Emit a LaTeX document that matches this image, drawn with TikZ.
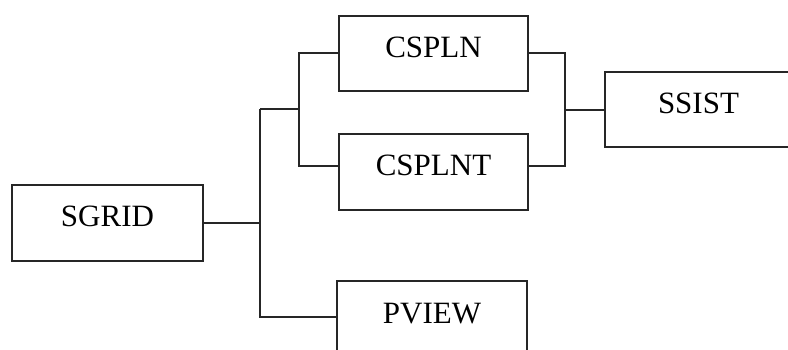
\documentclass[tikz,border=0pt]{standalone}
\usepackage{fontspec}
\setmainfont{Liberation Serif}
\begin{document}
\begin{tikzpicture}[x=1pt,y=-1pt,
  blk/.style={draw=black!85, line width=1.5pt, rectangle, inner sep=0pt,
    minimum height=76pt, text height=20.5pt, text depth=12.5pt,
    font=\fontsize{31}{33}\selectfont},
  wire/.style={draw=black!85, line width=1.5pt}]
\useasboundingbox (0,0) rectangle (788,350);
\clip (0,0) rectangle (788,350);
\node[blk, minimum width=191pt] (sg) at (107.5,223) {SGRID};
\node[blk, minimum width=189pt, minimum height=75pt] (cn) at (433.5,53.5) {CSPLN};
\node[blk, minimum width=189pt] (ct) at (433.5,172) {CSPLNT};
\node[blk, minimum width=187pt, minimum height=75pt] (ss) at (698.5,109.5) {SSIST};
\node[blk, minimum width=190pt] (pv) at (432,319) {PVIEW};
\coordinate (j1) at (260,223);
\coordinate (j2) at (260,109);
\coordinate (j3) at (260,317);
\coordinate (b1) at (299,109);
\coordinate (b2) at (299,53);
\coordinate (b3) at (299,166);
\coordinate (r1) at (565,53);
\coordinate (r2) at (565,166);
\coordinate (r3) at (565,110);
\draw[wire] (sg.east |- j1) -- (j1);
\draw[wire] (j2) -- (j3) -- (pv.west |- j3);
\draw[wire] (j2) -- (b1);
\draw[wire] (cn.west |- b2) -- (b2) -- (b3) -- (ct.west |- b3);
\draw[wire] (cn.east |- r1) -- (r1) -- (r2) -- (ct.east |- r2);
\draw[wire] (r3) -- (ss.west |- r3);
\end{tikzpicture}
\end{document}
